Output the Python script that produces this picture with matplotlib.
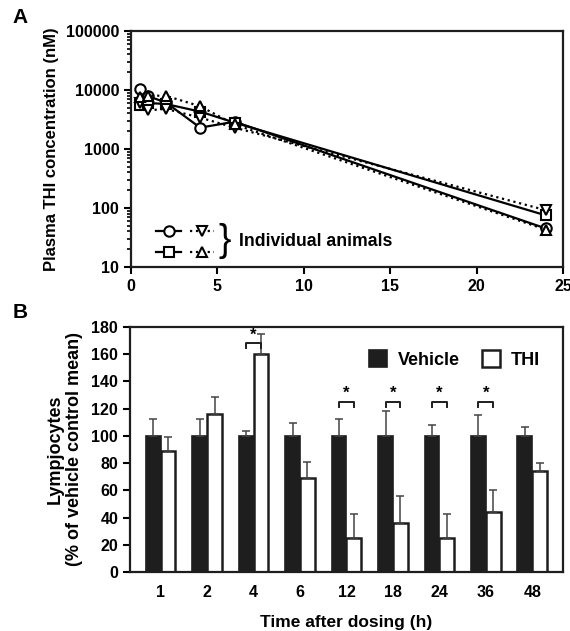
import matplotlib
matplotlib.use("Agg")
import matplotlib.pyplot as plt
import numpy as np
from matplotlib.ticker import FixedLocator, FixedFormatter, LogLocator, NullFormatter

plt.rcParams['font.family'] = ['Liberation Sans', 'DejaVu Sans']
plt.rcParams['font.weight'] = 'bold'

# panel A - plasma concentration of individual animals
pk_time = [0.5, 1, 2, 4, 6, 24]
animal_circle = [10500, 7800, 6200, 2300, 2900, 45]
animal_square = [5500, 6000, 5800, 4300, 2800, 75]
animal_down = [6000, 4500, 4800, 3400, 2300, 92]
animal_up = [7500, 8000, 8000, 5300, 2600, 43]

# panel B - lymphocytes
time_labels = ["1", "2", "4", "6", "12", "18", "24", "36", "48"]
vehicle_mean = [100, 100, 100, 100, 100, 100, 100, 100, 100]
vehicle_err = [12.5, 12.5, 3.7, 9.4, 12.3, 18.4, 8.1, 15.2, 6.2]
thi_mean = [89, 116, 160, 69, 25, 36, 25, 44, 74.5]
thi_err = [10.5, 12.5, 15, 12, 17.5, 20, 17.5, 16, 5.5]
signif = [False, False, True, False, True, True, True, True, False]

fig = plt.figure(figsize=(5.7, 6.31), dpi=100)

# ---------- A ----------
axA = fig.add_axes([0.2298, 0.5769, 0.7579, 0.374])
mk = dict(markersize=7.5, markerfacecolor="white", markeredgecolor="black",
          markeredgewidth=1.5, color="black")
axA.plot(pk_time, animal_circle, marker="o", ls="-", lw=1.6, **mk)
axA.plot(pk_time, animal_square, marker="s", ls="-", lw=1.6, **mk)
axA.plot(pk_time, animal_down, marker="v", ls=":", lw=1.6, **mk)
axA.plot(pk_time, animal_up, marker="^", ls=":", lw=1.6, **mk)
axA.set_yscale("log")
axA.set_ylim(10, 100000)
axA.set_xlim(0, 25)
axA.yaxis.set_major_locator(FixedLocator([10, 100, 1000, 10000, 100000]))
axA.yaxis.set_major_formatter(FixedFormatter(["10", "100", "1000", "10000", "100000"]))
axA.yaxis.set_minor_locator(LogLocator(base=10, subs=np.arange(2, 10)))
axA.yaxis.set_minor_formatter(NullFormatter())
axA.set_xticks([0, 5, 10, 15, 20, 25])
axA.set_ylabel("Plasma THI concentration (nM)", fontsize=12, fontweight="bold", labelpad=5)

# hand-made legend
tr = axA.transAxes
axA.plot([0.058, 0.116], [0.154, 0.154], "-", transform=tr, color="black", lw=1.6)
axA.plot([0.087], [0.154], transform=tr, marker="o", ls="None", **mk)
axA.plot([0.058, 0.116], [0.065, 0.065], "-", transform=tr, color="black", lw=1.6)
axA.plot([0.087], [0.065], transform=tr, marker="s", ls="None", **mk)
axA.plot([0.137, 0.192], [0.154, 0.154], ":", transform=tr, color="black", lw=1.6)
axA.plot([0.164], [0.154], transform=tr, marker="v", ls="None", **mk)
axA.plot([0.137, 0.192], [0.065, 0.065], ":", transform=tr, color="black", lw=1.6)
axA.plot([0.164], [0.065], transform=tr, marker="^", ls="None", **mk)
axA.text(0.203, 0.108, "}", transform=tr, fontsize=27, fontweight="light", va="center", ha="left")
axA.text(0.250, 0.108, "Individual animals", transform=tr, fontsize=12.7, fontweight="bold", va="center", ha="left")

# ---------- B ----------
axB = fig.add_axes([0.228, 0.0935, 0.7597, 0.3883])
x = np.arange(len(time_labels))
w = 0.32
axB.bar(x - w / 2, vehicle_mean, w, color="#1e1e1e", edgecolor="#1e1e1e", lw=1.2, label="Vehicle")
axB.bar(x + w / 2, thi_mean, w, color="white", edgecolor="#1e1e1e", lw=1.8, label="THI")
axB.errorbar(x - w / 2, vehicle_mean, yerr=[np.zeros(len(x)), vehicle_err], fmt="none",
             ecolor="#444444", elinewidth=1.1, capsize=3, capthick=1.1, zorder=1)
axB.errorbar(x + w / 2, thi_mean, yerr=[np.zeros(len(x)), thi_err], fmt="none",
             ecolor="#444444", elinewidth=1.1, capsize=3, capthick=1.1, zorder=1)
for i, s in enumerate(signif):
    if not s:
        continue
    top = 125 if thi_mean[i] < 150 else 168
    axB.plot([i - w / 2, i - w / 2, i + w / 2, i + w / 2], [top - 3.5, top, top, top - 3.5],
             color="#1e1e1e", lw=1.4)
    axB.text(i, top + 0.5, "*", ha="center", va="bottom", fontsize=12, fontweight="bold")
axB.set_xlim(-0.66, 8.66)
axB.set_ylim(0, 180)
axB.set_yticks(np.arange(0, 181, 20))
axB.set_xticks(x)
axB.set_xticklabels(time_labels)
axB.set_ylabel("Lympjocytes\n(% of vehicle control mean)", fontsize=13, fontweight="bold", labelpad=6)
axB.set_xlabel("Time after dosing (h)", fontsize=12.5, fontweight="bold", labelpad=11)
axB.legend(loc="upper right", frameon=False, fontsize=13, handlelength=1.0, handleheight=1.0,
           ncol=2, columnspacing=1.2, handletextpad=0.6, borderaxespad=0.9)

for ax in (axA, axB):
    for sp in ax.spines.values():
        sp.set_linewidth(1.6)
        sp.set_color("#1e1e1e")
    ax.tick_params(which="major", direction="out", length=5, width=1.5, labelsize=11.5)
    ax.tick_params(which="minor", direction="out", length=3, width=1.2)
    for lab in ax.get_xticklabels() + ax.get_yticklabels():
        lab.set_fontweight("bold")
axB.tick_params(axis="x", length=0, pad=9)

fig.text(0.022, 0.972, "A", fontsize=15, fontweight="bold", va="center")
fig.text(0.022, 0.505, "B", fontsize=15, fontweight="bold", va="center")

fig.savefig("out.png", dpi=100)
